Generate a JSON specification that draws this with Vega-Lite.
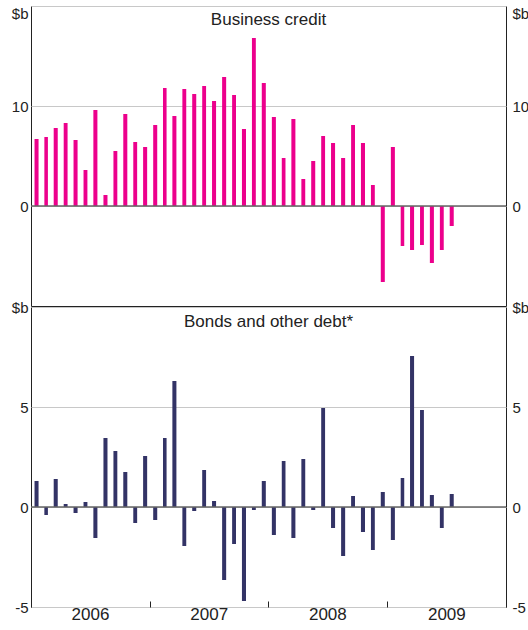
{
  "$schema": "https://vega.github.io/schema/vega-lite/v6.json",
  "padding": {"left": 10, "top": 5, "right": 0, "bottom": 0},
  "spacing": -11.5,
  "config": {
    "view": {"stroke": "#222", "strokeWidth": 1},
    "font": "Liberation Sans",
    "title": {"fontSize": 17, "fontWeight": "normal", "color": "#222", "font": "Liberation Sans"}
  },
  "datasets": {
    "credit": [
      {"date": "2006-01-15", "business": 6.7, "bonds": 1.3},
      {"date": "2006-02-15", "business": 6.9, "bonds": -0.4},
      {"date": "2006-03-15", "business": 7.8, "bonds": 1.4},
      {"date": "2006-04-15", "business": 8.3, "bonds": 0.15},
      {"date": "2006-05-15", "business": 6.6, "bonds": -0.3},
      {"date": "2006-06-15", "business": 3.6, "bonds": 0.25},
      {"date": "2006-07-15", "business": 9.6, "bonds": -1.55},
      {"date": "2006-08-15", "business": 1.1, "bonds": 3.45},
      {"date": "2006-09-15", "business": 5.5, "bonds": 2.8},
      {"date": "2006-10-15", "business": 9.2, "bonds": 1.75},
      {"date": "2006-11-15", "business": 6.4, "bonds": -0.8},
      {"date": "2006-12-15", "business": 5.9, "bonds": 2.55},
      {"date": "2007-01-15", "business": 8.1, "bonds": -0.65},
      {"date": "2007-02-15", "business": 11.8, "bonds": 3.45},
      {"date": "2007-03-15", "business": 9.0, "bonds": 6.3},
      {"date": "2007-04-15", "business": 11.7, "bonds": -1.95},
      {"date": "2007-05-15", "business": 11.2, "bonds": -0.2},
      {"date": "2007-06-15", "business": 12.0, "bonds": 1.85},
      {"date": "2007-07-15", "business": 10.5, "bonds": 0.3},
      {"date": "2007-08-15", "business": 12.9, "bonds": -3.65},
      {"date": "2007-09-15", "business": 11.1, "bonds": -1.85},
      {"date": "2007-10-15", "business": 7.7, "bonds": -4.7},
      {"date": "2007-11-15", "business": 16.8, "bonds": -0.15},
      {"date": "2007-12-15", "business": 12.3, "bonds": 1.3},
      {"date": "2008-01-15", "business": 8.9, "bonds": -1.4},
      {"date": "2008-02-15", "business": 4.8, "bonds": 2.3},
      {"date": "2008-03-15", "business": 8.7, "bonds": -1.55},
      {"date": "2008-04-15", "business": 2.7, "bonds": 2.4},
      {"date": "2008-05-15", "business": 4.5, "bonds": -0.15},
      {"date": "2008-06-15", "business": 7.0, "bonds": 4.95},
      {"date": "2008-07-15", "business": 6.3, "bonds": -1.05},
      {"date": "2008-08-15", "business": 4.8, "bonds": -2.45},
      {"date": "2008-09-15", "business": 8.1, "bonds": 0.55},
      {"date": "2008-10-15", "business": 6.3, "bonds": -1.25},
      {"date": "2008-11-15", "business": 2.1, "bonds": -2.15},
      {"date": "2008-12-15", "business": -7.6, "bonds": 0.75},
      {"date": "2009-01-15", "business": 5.9, "bonds": -1.65},
      {"date": "2009-02-15", "business": -4.0, "bonds": 1.45},
      {"date": "2009-03-15", "business": -4.4, "bonds": 7.55},
      {"date": "2009-04-15", "business": -3.9, "bonds": 4.85},
      {"date": "2009-05-15", "business": -5.7, "bonds": 0.6},
      {"date": "2009-06-15", "business": -4.4, "bonds": -1.05},
      {"date": "2009-07-15", "business": -2.0, "bonds": 0.65}
    ]
  },
  "vconcat": [
    {
      "width": 475,
      "height": 300,
      "title": {"text": "Business credit", "anchor": "middle", "frame": "group", "baseline": "top", "offset": -23},
      "layer": [
        {
          "data": {"name": "credit"},
          "mark": {"type": "bar", "color": "#EC008C", "width": {"band": 0.5}},
          "encoding": {
            "x": {
              "field": "date", "timeUnit": "yearmonth", "type": "temporal",
              "scale": {"domain": [{"year": 2006, "month": 1, "date": 1}, {"year": 2010, "month": 1, "date": 1}]},
              "axis": null
            },
            "y": {
              "field": "business", "type": "quantitative",
              "scale": {"domain": [-10, 20], "nice": false, "zero": false},
              "axis": {
                "orient": "left", "values": [0, 10, 20], "title": null,
                "labelExpr": "datum.value == 20 ? '$b' : '' + datum.value",
                "grid": true, "gridColor": "#c8c8c8", "ticks": false, "domain": false,
                "labelPadding": 3, "labelFontSize": 15, "labelColor": "#222", "labelFlush": false,
                "labelBaseline": {"condition": {"test": "datum.value == 20", "value": "top"}, "value": "middle"}
              }
            }
          }
        },
        {
          "data": {"values": [{}]},
          "mark": {"type": "rule", "color": "#666", "strokeWidth": 1.5},
          "encoding": {
            "y": {
              "datum": 0, "type": "quantitative",
              "axis": {
                "orient": "right", "values": [0, 10, 20], "title": null,
                "labelExpr": "datum.value == 20 ? '$b' : '' + datum.value",
                "grid": false, "ticks": false, "domain": false,
                "labelPadding": 6, "labelFontSize": 15, "labelColor": "#222", "labelFlush": false,
                "labelBaseline": {"condition": {"test": "datum.value == 20", "value": "top"}, "value": "middle"}
              }
            }
          }
        }
      ],
      "resolve": {"axis": {"y": "independent"}}
    },
    {
      "width": 475,
      "height": 300,
      "title": {"text": "Bonds and other debt*", "anchor": "middle", "frame": "group", "baseline": "top", "offset": -30.5},
      "layer": [
        {
          "data": {"name": "credit"},
          "mark": {"type": "bar", "color": "#333366", "width": {"band": 0.5}},
          "encoding": {
            "x": {
              "field": "date", "timeUnit": "yearmonth", "type": "temporal",
              "scale": {"domain": [{"year": 2006, "month": 1, "date": 1}, {"year": 2010, "month": 1, "date": 1}]},
              "axis": {
                "title": null, "domain": false, "grid": false,
                "values": [
                  {"year": 2006, "month": 1, "date": 1},
                  {"year": 2007, "month": 1, "date": 1},
                  {"year": 2008, "month": 1, "date": 1},
                  {"year": 2009, "month": 1, "date": 1},
                  {"year": 2010, "month": 1, "date": 1}
                ],
                "labelExpr": "year(datum.value) >= 2010 ? '' : timeFormat(datum.value, '%Y')",
                "labelOffset": 59, "labelAlign": "center", "labelFlush": false, "labelBound": false, "labelOverlap": false,
                "ticks": true, "tickSize": -6, "tickColor": "#222", "labelPadding": 5,
                "labelFontSize": 17, "labelColor": "#222"
              }
            },
            "y": {
              "field": "bonds", "type": "quantitative",
              "scale": {"domain": [-5, 10], "nice": false, "zero": false},
              "axis": {
                "orient": "left", "values": [-5, 0, 5, 10], "title": null,
                "labelExpr": "datum.value == 10 ? '$b' : '' + datum.value",
                "grid": true, "gridColor": "#c8c8c8", "ticks": false, "domain": false,
                "labelPadding": 3, "labelFontSize": 15, "labelColor": "#222", "labelFlush": false
              }
            }
          }
        },
        {
          "data": {"values": [{}]},
          "mark": {"type": "rule", "color": "#666", "strokeWidth": 1.5},
          "encoding": {
            "y": {
              "datum": 0, "type": "quantitative",
              "axis": {
                "orient": "right", "values": [-5, 0, 5, 10], "title": null,
                "labelExpr": "datum.value == 10 ? '$b' : '' + datum.value",
                "grid": false, "ticks": false, "domain": false,
                "labelPadding": 6, "labelFontSize": 15, "labelColor": "#222", "labelFlush": false
              }
            }
          }
        }
      ],
      "resolve": {"axis": {"y": "independent"}}
    }
  ]
}
